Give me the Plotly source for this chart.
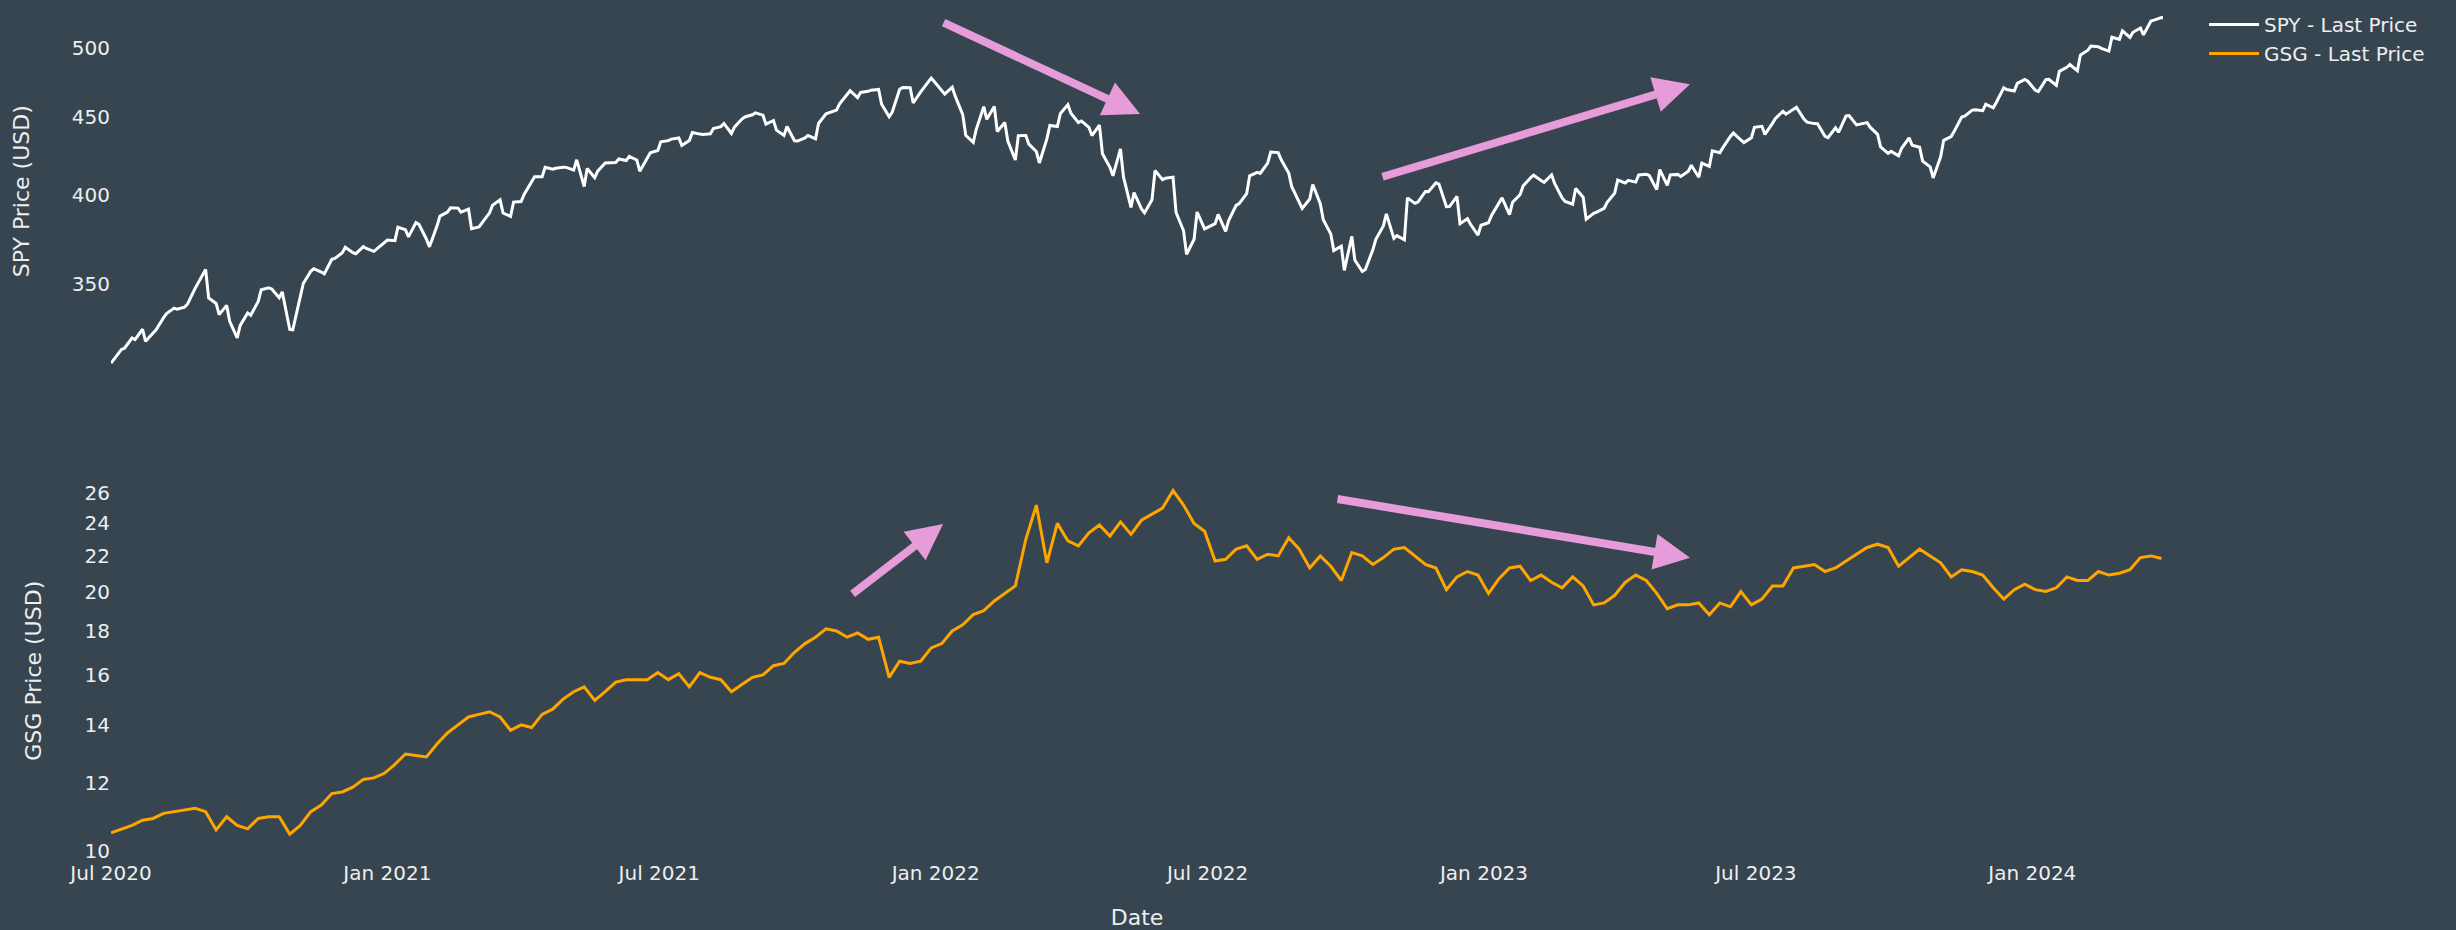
import numpy as np
import pandas as pd
import plotly.graph_objects as go
from plotly.subplots import make_subplots

# two samples a week (Wednesday + Friday), Jul 2020 -> Mar 2024
wed_dates = pd.date_range("2020-07-01", periods=196, freq="7D")
fri_dates = pd.date_range("2020-07-03", periods=196, freq="7D")

spy_wed = [
    # 2020
    310.5, 317.0, 322.5, 326.8, 325.0, 332.6, 337.4, 337.9, 347.6, 357.7,
    339.8, 338.8, 322.6, 334.9, 340.8, 347.9, 342.7, 326.7, 343.5, 356.7,
    356.3, 363.2, 366.8, 366.9, 370.2, 367.6, 372.0,
    # 2021
    373.6, 379.8, 383.9, 374.4, 381.9, 390.1, 392.4, 391.8, 381.4, 389.6,
    397.3, 387.5, 396.3, 408.0, 411.5, 416.1, 417.4, 415.6, 405.4, 410.9,
    420.0, 420.3, 421.6, 422.0, 423.6, 428.1, 434.5, 436.2, 434.6, 438.8,
    439.0, 443.8, 439.2, 448.9, 451.8, 451.5, 447.9, 437.9, 434.4, 436.3,
    435.6, 452.4, 455.0, 466.2, 463.6, 468.1, 469.4, 450.5, 469.5, 470.6,
    467.7, 477.5,
    # 2022
    468.4, 471.0, 451.8, 433.4, 457.4, 457.5, 446.6, 422.0, 437.9, 427.4,
    435.6, 443.8, 458.7, 446.5, 443.3, 444.7, 417.3, 429.1, 392.8, 391.9,
    397.4, 409.6, 411.2, 379.2, 374.4, 380.3, 383.3, 378.8, 394.0, 401.0,
    414.2, 420.0, 426.7, 413.7, 395.2, 397.8, 395.0, 377.4, 370.5, 376.0,
    356.6, 368.5, 382.0, 374.9, 374.1, 395.2, 402.4, 407.7, 393.2, 399.4,
    386.2, 376.7,
    # 2023
    383.8, 395.5, 388.6, 400.4, 410.8, 409.1, 412.6, 398.5, 394.7, 398.9,
    389.3, 392.3, 401.4, 407.6, 408.1, 413.0, 403.5, 406.1, 412.9, 414.9,
    411.1, 417.9, 426.6, 437.2, 434.9, 436.4, 444.0, 446.0, 454.2, 455.5,
    448.8, 445.8, 437.3, 443.0, 451.0, 444.9, 446.5, 438.6, 426.2, 424.7,
    436.3, 430.2, 417.6, 424.1, 437.2, 450.2, 455.0, 454.6, 456.6, 470.5,
    468.3, 476.5,
    # 2024
    468.8, 476.4, 472.3, 485.4, 482.9, 498.1, 500.6, 497.4, 506.3, 507.8,
    515.0, 520.5, 523.2,
]

spy_fri = [
    # 2020
    312.2, 317.6, 321.7, 320.9, 326.5, 334.6, 336.8, 339.5, 350.6, 342.6,
    334.1, 330.7, 328.7, 333.8, 346.9, 347.3, 345.8, 326.5, 350.2, 358.1,
    355.3, 363.7, 369.9, 366.3, 369.2, 369.0, 373.9,
    # 2021
    381.3, 375.7, 382.9, 370.1, 387.7, 392.6, 390.0, 380.4, 383.6, 394.1,
    389.5, 396.0, 400.6, 411.5, 417.3, 416.7, 417.3, 422.1, 416.6, 414.9,
    420.0, 422.6, 424.3, 414.9, 426.6, 433.7, 435.5, 431.3, 439.9, 438.5,
    442.5, 445.9, 443.4, 450.3, 453.1, 445.4, 441.4, 443.9, 434.2, 437.9,
    445.9, 453.1, 459.3, 468.5, 467.3, 468.9, 459.0, 453.4, 470.7, 459.9,
    470.6, 475.0,
    # 2022
    466.1, 464.7, 438.0, 442.0, 448.7, 440.5, 434.2, 437.8, 432.2, 420.1,
    444.5, 452.7, 452.9, 447.6, 437.8, 426.0, 412.0, 411.3, 401.7, 389.6,
    415.3, 410.5, 389.8, 365.9, 390.1, 381.2, 388.7, 385.1, 395.1, 412.0,
    413.5, 427.1, 422.1, 405.3, 392.2, 406.6, 385.6, 368.0, 357.2, 362.8,
    357.6, 374.3, 389.0, 376.4, 398.5, 396.0, 402.3, 406.9, 393.3, 383.3,
    382.9, 382.4,
    # 2023
    388.1, 398.5, 395.9, 405.7, 412.4, 408.0, 407.3, 396.4, 404.2, 385.9,
    390.0, 395.8, 409.4, 409.2, 412.5, 412.2, 415.9, 412.6, 411.6, 418.6,
    420.0, 427.9, 429.9, 439.5, 433.2, 443.3, 438.6, 449.3, 452.2, 456.9,
    446.8, 445.7, 436.5, 440.0, 451.2, 445.5, 443.4, 430.4, 427.5, 429.5,
    431.5, 421.2, 410.7, 434.7, 440.6, 450.8, 455.3, 459.1, 460.2, 469.3,
    473.7, 475.3,
    # 2024
    467.9, 476.7, 482.4, 487.4, 494.4, 501.2, 499.5, 507.9, 512.9, 511.7,
    509.8, 521.2, 523.1,
]

gsg_wed = [
    # 2020
    10.49, 10.6, 10.7, 10.85, 10.9, 11.05, 11.1, 11.15, 11.2, 11.1,
    10.57, 10.95, 10.7, 10.6, 10.9, 10.95, 10.95, 10.45, 10.7, 11.1,
    11.3, 11.65, 11.7, 11.85, 12.1, 12.15, 12.3,
    # 2021
    12.6, 12.95, 12.9, 12.85, 13.3, 13.7, 14.0, 14.3, 14.4, 14.5,
    14.3, 13.8, 14.0, 13.9, 14.4, 14.6, 15.0, 15.3, 15.5, 14.95,
    15.3, 15.7, 15.8, 15.8, 15.8, 16.1, 15.8, 16.05, 15.5, 16.1,
    15.9, 15.8, 15.3, 15.6, 15.9, 16.0, 16.4, 16.5, 17.0, 17.4,
    17.7, 18.1, 18.0, 17.7, 17.9, 17.6, 17.7, 15.9, 16.6, 16.5,
    16.6, 17.2,
    # 2022
    17.4, 18.0, 18.3, 18.8, 19.0, 19.5, 19.9, 20.3, 23.0, 25.2,
    21.6, 24.0, 22.9, 22.6, 23.4, 23.9, 23.2, 24.1, 23.3, 24.2,
    24.6, 25.0, 26.2, 25.2, 24.0, 23.5, 21.7, 21.8, 22.4, 22.6,
    21.8, 22.1, 22.0, 23.1, 22.4, 21.3, 22.0, 21.4, 20.6, 22.2,
    22.0, 21.5, 21.9, 22.4, 22.5, 22.0, 21.5, 21.3, 20.1, 20.8,
    21.1, 20.9,
    # 2023
    19.9, 20.7, 21.3, 21.4, 20.6, 20.9, 20.5, 20.2, 20.8, 20.3,
    19.3, 19.4, 19.8, 20.5, 20.9, 20.6, 19.9, 19.1, 19.3, 19.3,
    19.4, 18.8, 19.4, 19.2, 20.0, 19.3, 19.6, 20.3, 20.3, 21.3,
    21.4, 21.5, 21.1, 21.3, 21.7, 22.1, 22.5, 22.7, 22.5, 21.4,
    21.9, 22.4, 22.0, 21.6, 20.8, 21.2, 21.1, 20.9, 20.2, 19.6,
    20.1, 20.4,
    # 2024
    20.1, 20.0, 20.2, 20.8, 20.6, 20.6, 21.1, 20.9, 21.0, 21.2,
    21.9, 22.0, 21.85,
]

spy_ticks = [350, 400, 450, 500]
gsg_ticks = [10, 12, 14, 16, 18, 20, 22, 24, 26]

spy_df = pd.DataFrame({"date": list(wed_dates) + list(fri_dates),
                       "price": spy_wed + spy_fri}).sort_values("date")

bg = "#36454F"
txt = "#EEEEEE"
arrow_col = "#E59CD9"
font_family = "Verdana, DejaVu Sans, sans-serif"

fig = make_subplots(rows=2, cols=1, shared_xaxes=True)

fig.add_trace(go.Scatter(x=spy_df["date"], y=spy_df["price"], mode="lines", name="SPY - Last Price",
                         line=dict(color="#FFFFFF", width=3)), row=1, col=1)
fig.add_trace(go.Scatter(x=wed_dates, y=gsg_wed, mode="lines", name="GSG - Last Price",
                         line=dict(color="#FFA500", width=3)), row=2, col=1)

fig.update_layout(
    width=2456, height=930,
    paper_bgcolor=bg, plot_bgcolor=bg,
    font=dict(family=font_family, size=20, color=txt),
    margin=dict(l=111, r=293, t=0, b=72),
    legend=dict(x=1.02, y=1.0, xanchor="left", yanchor="top",
                itemwidth=50, font=dict(size=20, color=txt), bgcolor="rgba(0,0,0,0)"),
    showlegend=True,
)

fig.update_xaxes(showgrid=False, zeroline=False, showline=False,
                 range=["2020-07-01", "2024-03-28"],
                 tick0="2020-07-01", dtick="M6", tickformat="%b %Y",
                 ticklabelstandoff=4, tickfont=dict(size=20, color=txt))
fig.update_xaxes(title=dict(text="Date", font=dict(size=22, color=txt), standoff=30), row=2, col=1)

fig.update_yaxes(type="log", showgrid=False, zeroline=False, showline=False,
                 tickfont=dict(size=20, color=txt))
fig.update_yaxes(domain=[0.57110, 0.99068], range=[np.log10(307.5), np.log10(526.9)],
                 tickvals=spy_ticks, ticktext=[str(v) for v in spy_ticks],
                 title=dict(text="SPY Price (USD)", font=dict(size=22, color=txt), standoff=36),
                 row=1, col=1)
fig.update_yaxes(domain=[0.0, 0.43357], range=[np.log10(9.885), np.log10(26.49)],
                 tickvals=gsg_ticks, ticktext=[str(v) for v in gsg_ticks],
                 title=dict(text="GSG Price (USD)", font=dict(size=22, color=txt), standoff=36),
                 row=2, col=1)

# trend arrows (tip position in paper coords, tail offset in px)
arrows = [
    (0.5015, 0.8718, -198, -92),
    (0.7695, 0.9068, -309, 93),
    (0.4055, 0.3893, -92, 71),
    (0.7695, 0.3497, -354, -59),
]
for x, y, ax, ay in arrows:
    fig.add_annotation(x=x, y=y, xref="paper", yref="paper", ax=ax, ay=ay,
                       text="", showarrow=True, arrowhead=2, arrowsize=0.9,
                       arrowwidth=8, arrowcolor=arrow_col)

fig.write_html("out.html", config={"displayModeBar": False},
               post_script="document.body.style.margin='0';")
